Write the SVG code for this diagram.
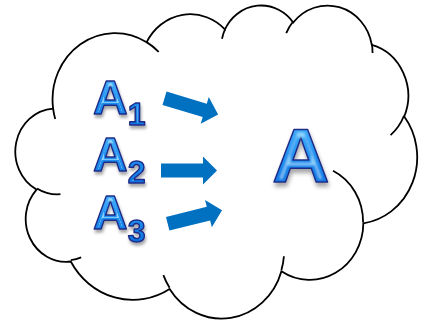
<svg xmlns="http://www.w3.org/2000/svg" width="427" height="321" viewBox="0 0 427 321">
  <defs>
    <style>
      .outline { fill: none; stroke: #000; stroke-width: 1.8; vector-effect: non-scaling-stroke; stroke-linecap: butt; }
      .lbl { font-family: "Liberation Sans", Arial, sans-serif; font-weight: bold; fill: url(#glossBlue); stroke: #1f2c88; stroke-width: 1.4; stroke-linejoin: round; }
      .arrow { fill: #0070c0; }
    </style>
    <linearGradient id="glossBlue" x1="0" y1="0" x2="0" y2="1">
      <stop offset="0" stop-color="#52baff"/>
      <stop offset="0.55" stop-color="#1b8cee"/>
      <stop offset="1" stop-color="#0a6edc"/>
    </linearGradient>
    <!-- glossy letter: soft drop shadow plus a light bevel stripe along the strokes -->
    <filter id="wordartSmall" x="-20%" y="-20%" width="150%" height="160%">
      <feGaussianBlur in="SourceAlpha" stdDeviation="1.5" result="sb"/>
      <feOffset in="sb" dx="1" dy="3" result="so"/>
      <feFlood flood-color="#000" flood-opacity="0.35"/>
      <feComposite in2="so" operator="in" result="shadow"/>
      <feMorphology in="SourceAlpha" operator="erode" radius="2.5" result="core"/>
      <feGaussianBlur in="core" stdDeviation="0.6" result="coreb"/>
      <feFlood flood-color="#a6eaff" flood-opacity="0.7"/>
      <feComposite in2="coreb" operator="in" result="shine"/>
      <feMerge><feMergeNode in="shadow"/><feMergeNode in="SourceGraphic"/><feMergeNode in="shine"/></feMerge>
    </filter>
    <filter id="wordartBig" x="-20%" y="-20%" width="150%" height="160%">
      <feGaussianBlur in="SourceAlpha" stdDeviation="2" result="sb"/>
      <feOffset in="sb" dx="1" dy="4" result="so"/>
      <feFlood flood-color="#000" flood-opacity="0.35"/>
      <feComposite in2="so" operator="in" result="shadow"/>
      <feMorphology in="SourceAlpha" operator="erode" radius="4" result="core"/>
      <feGaussianBlur in="core" stdDeviation="0.8" result="coreb"/>
      <feFlood flood-color="#a6eaff" flood-opacity="0.7"/>
      <feComposite in2="coreb" operator="in" result="shine"/>
      <feMerge><feMergeNode in="shadow"/><feMergeNode in="SourceGraphic"/><feMergeNode in="shine"/></feMerge>
    </filter>
    <polygon id="blockArrow" points="0,-7 42,-7 42,-14 56,0 42,14 42,7 0,7"/>
  </defs>

  <rect width="427" height="321" fill="#fff"/>

  <!-- cloud drawn in a 43200-unit shape space, scaled to its box -->
  <g id="cloud" transform="translate(17,4.5) scale(0.0092593,0.0072454)">
    <path class="outline" fill="#fff" d="M3900 14370
      A6753 9190 0 0 1 14004.9 5202.2
      A5333 7267 0 0 1 22456.2 3431.7
      A4365 5945 0 0 1 29833.8 2481.3
      A4857 6595 0 0 1 38319.3 5576.2
      A5333 7273 0 0 1 41819.9 15460.1
      A6775 9220 0 0 1 37405.3 30202.1
      A5785 7867 0 0 1 28556.8 36812.2
      A6752 9215 0 0 1 16481.2 39264.1
      A7720 10543 0 0 1 5806.5 35470.6
      A4360 5918 0 0 1 2115.3 25548.8
      A4345 5945 0 0 1 3900 14370 Z"/>
    <!-- inner bump tails -->
    <path class="outline" d="M4693 26177 A4345 5945 0 0 1 2159.9 25380
      M6928 34899 A4360 5918 0 0 1 5819.5 35280.5
      M16478 39090 A6752 9215 0 0 1 15809.8 37348.3
      M28827 34751 A6752 9215 0 0 1 28560.5 36659.4
      M34129 22954 A5785 7867 0 0 1 37380.6 30089.7
      M41798 15354 A5333 7273 0 0 1 40349 18031
      M38324 5426 A4857 6595 0 0 1 38400.4 6689.5
      M29078 3952 A4857 6595 0 0 1 29819.3 2341.2
      M22141 4720 A4365 5945 0 0 1 22500.2 3329.8
      M14000 5192 A6753 9190 0 0 1 15300.2 6540.7
      M4127 15789 A6753 9190 0 0 1 3900 14370"/>
  </g>

  <g id="connectors">
    <use href="#blockArrow" class="arrow" transform="translate(164.5,98.3) rotate(16.7)"/>
    <use href="#blockArrow" class="arrow" transform="translate(161,170.6)"/>
    <use href="#blockArrow" class="arrow" transform="translate(167.7,223.8) rotate(-14)"/>
  </g>

  <g id="a1" filter="url(#wordartSmall)">
    <text class="lbl" x="93" y="114" font-size="48">A<tspan dy="11" font-size="32">1</tspan></text>
  </g>
  <g id="a2" filter="url(#wordartSmall)">
    <text class="lbl" x="93" y="171" font-size="48">A<tspan dy="11.5" font-size="32">2</tspan></text>
  </g>
  <g id="a3" filter="url(#wordartSmall)">
    <text class="lbl" x="93" y="228.5" font-size="48">A<tspan dy="13" font-size="32">3</tspan></text>
  </g>
  <g id="a" filter="url(#wordartBig)">
    <text class="lbl" x="272" y="182.5" font-size="76" transform="translate(272,0) scale(1.05,1) translate(-272,0)">A</text>
  </g>
</svg>
